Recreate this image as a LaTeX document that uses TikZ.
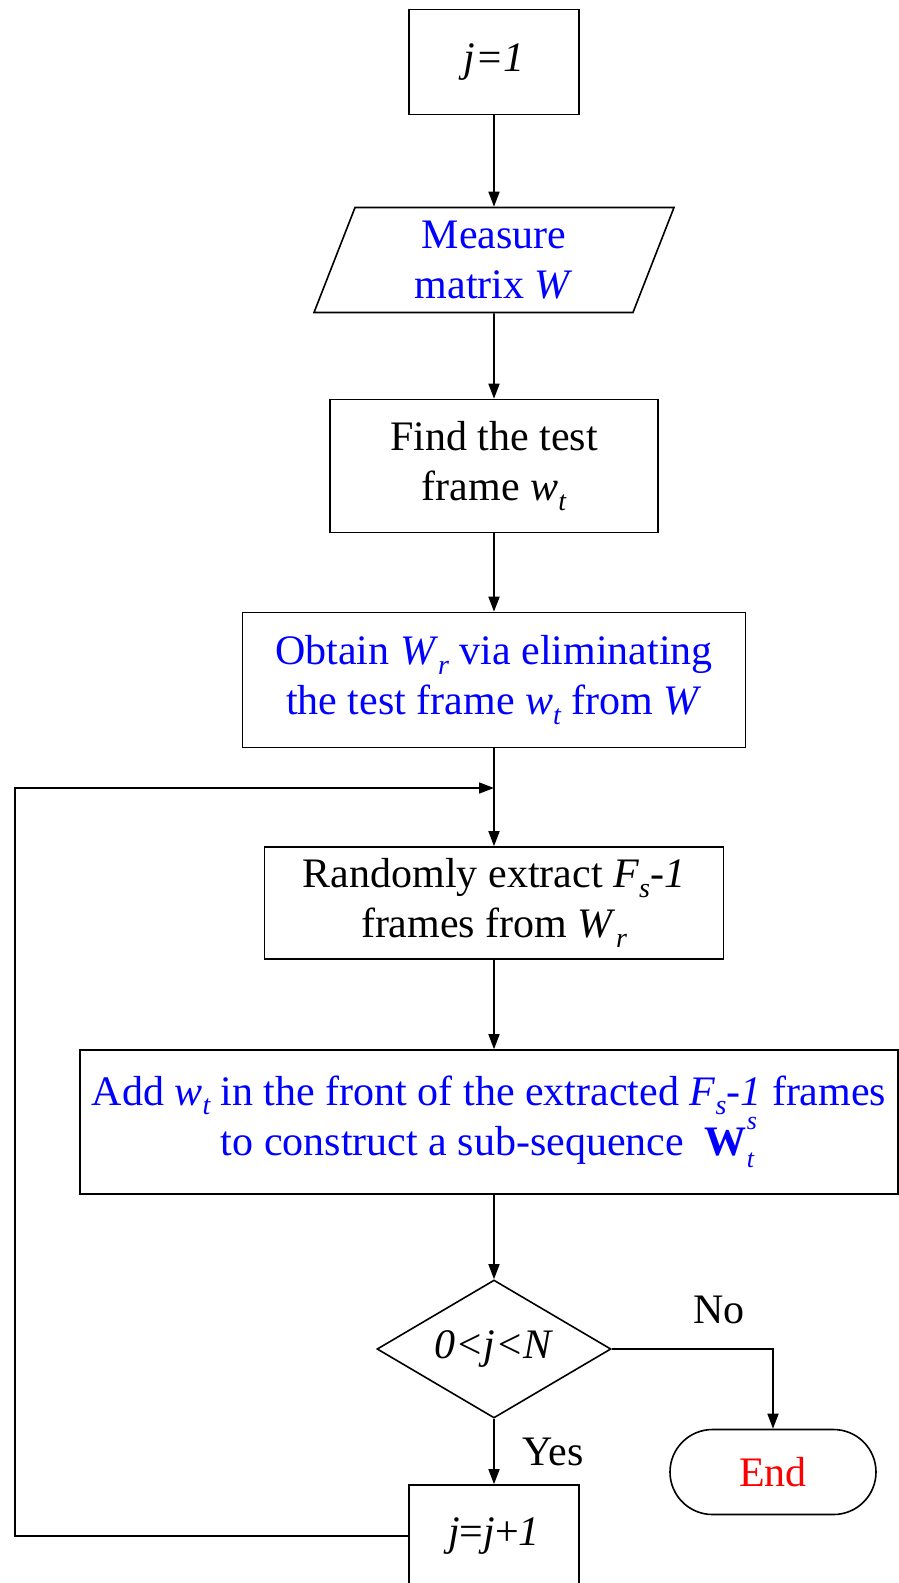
\documentclass[tikz,border=0pt]{standalone}
\usepackage{fontspec}
\setmainfont{Liberation Serif}
\usetikzlibrary{arrows.meta,shapes.geometric,shapes.misc}
\newcommand\lowidx[1]{\raisebox{-0.22em}{\fontsize{28}{28}\selectfont\itshape #1}}
\newcommand\highidx[1]{\raisebox{0.62em}{\fontsize{26}{26}\selectfont\itshape #1}}
\newcommand\deepidx[1]{\raisebox{-0.3em}{\fontsize{26}{26}\selectfont\itshape #1}}

\begin{document}
\begin{tikzpicture}[x=1pt,y=-1pt,line width=1.6pt,
			every node/.style={font=\fontsize{42}{50}\selectfont, align=center, inner sep=3pt},
			box/.style={draw, rectangle},
			iobox/.style={draw, trapezium, trapezium left angle=64, trapezium right angle=116,
				trapezium stretches body, minimum width=360pt, minimum height=105pt},
			test/.style={draw, diamond, inner sep=0pt, aspect=1.7, minimum width=234pt, minimum height=138pt},
			term/.style={draw, rounded rectangle, minimum width=212pt, minimum height=85pt},
			flow/.style={-{Triangle[length=15pt,width=11pt]}}]
			\useasboundingbox (0,0) rectangle (898,1583);
			\node [box, minimum width=170pt, minimum height=105pt] (init) at (494,62) {\textit{j=1}};
			\node [iobox, text=blue] (meas) at (494,260) {Measure\\matrix \textit{W}};
			\node [box, minimum width=328pt, minimum height=133pt] (find) at (494,466)
				{Find the test\\frame \textit{w}\lowidx{t}};
			\node [box, minimum width=503pt, minimum height=135pt, text=blue] (elim) at (494,680)
				{Obtain \textit{W}\lowidx{r} via eliminating\\the test frame \textit{w}\lowidx{t} from \textit{W}};
			\node [box, minimum width=459pt, minimum height=112pt] (pick) at (494,903)
				{Randomly extract \textit{F}\lowidx{s}-\textit{1}\\frames from \textit{W}\lowidx{r}};
			\node [box, minimum width=818pt, minimum height=144pt, text=blue] (addw) at (489,1122)
				{Add \textit{w}\lowidx{t} in the front of the extracted \textit{F}\lowidx{s}-\textit{1} frames\\
				to construct a sub-sequence \ \textbf{W}\makebox[0pt][l]{\deepidx{t}}\highidx{s}};
			\node [test] (cond) at (494,1349) {\textit{0<j<N}};
			\node [term, text=red] (stop) at (773,1472) {End};
			\node [box, minimum width=170pt, minimum height=102pt] (incr) at (494,1536)
				{\textit{j}=\textit{j}+\textit{1}};
			\node (lblno) at (719,1310) {No};
			\node (lblyes) at (553,1452) {Yes};
			% main flow
			\draw [flow] (init) -- (meas);
			\draw [flow] (meas) -- (find);
			\draw [flow] (find) -- (elim);
			\draw [flow] (elim) -- (pick);
			\draw [flow] (pick) -- (addw.north -| pick);
			\draw [flow] (addw.south -| cond) -- (cond);
			\draw [flow] (cond.east) -| (stop.north);
			\draw [flow] (cond) -- (incr);
			% loop back
			\draw [flow] (incr.west) -- (15,1536) |- (494,788);
		\end{tikzpicture}
\end{document}
